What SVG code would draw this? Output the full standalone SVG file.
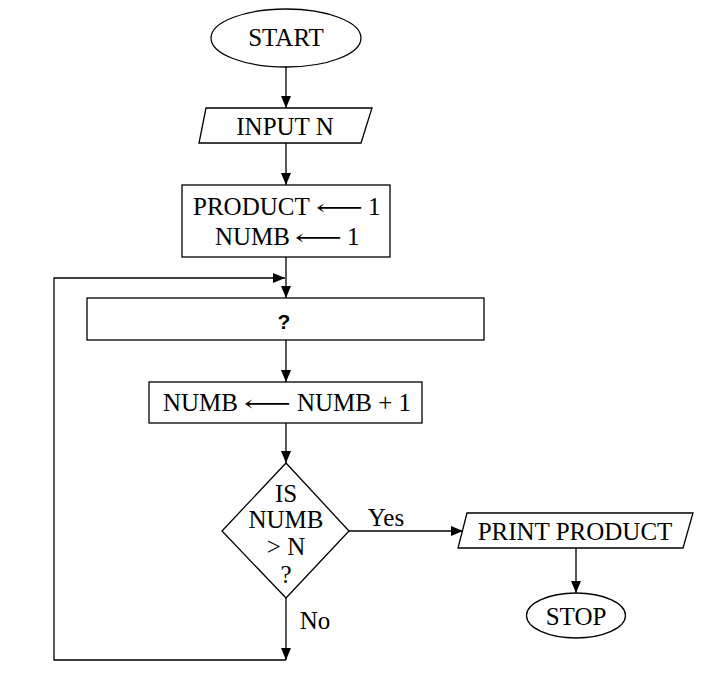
<svg xmlns="http://www.w3.org/2000/svg" width="708" height="675" viewBox="0 0 708 675">
<style>
.s{fill:#fff;stroke:#000;stroke-width:1.3}
.c{fill:none;stroke:#000;stroke-width:1.3}
.t{font-family:"Liberation Serif","DejaVu Serif",serif;font-size:25px;fill:#000;text-anchor:middle}
.l{font-family:"Liberation Serif","DejaVu Serif",serif;font-size:25px;fill:#000}
.a{font-family:"DejaVu Serif","DejaVu Sans",serif;font-size:22px;fill:#000}
.q{font-family:"Liberation Sans",sans-serif;font-size:21px;font-weight:bold;fill:#000;text-anchor:middle}
</style>
<defs>
<marker id="ah" viewBox="0 0 12 10" refX="12" refY="5" markerWidth="12" markerHeight="10" markerUnits="userSpaceOnUse" orient="auto">
<path d="M0,0 L12,5 L0,10 Z" fill="#000"/>
</marker>
</defs>
<rect width="708" height="675" fill="#fff"/>
<g id="connectors">
<line class="c" x1="286" y1="67" x2="286" y2="108" marker-end="url(#ah)"/>
<line class="c" x1="286" y1="143" x2="286" y2="185" marker-end="url(#ah)"/>
<line class="c" x1="286" y1="257" x2="286" y2="298" marker-end="url(#ah)"/>
<line class="c" x1="286" y1="340" x2="286" y2="382" marker-end="url(#ah)"/>
<line class="c" x1="286" y1="423" x2="286" y2="463" marker-end="url(#ah)"/>
<line class="c" x1="349" y1="531" x2="463" y2="531" marker-end="url(#ah)"/>
<line class="c" x1="576" y1="548" x2="576" y2="593" marker-end="url(#ah)"/>
<line class="c" x1="286" y1="598" x2="286" y2="660" marker-end="url(#ah)"/>
<polyline class="c" points="286,660 54,660 54,278 285,278" marker-end="url(#ah)"/>
<text class="t" x="386" y="526">Yes</text>
<text class="t" x="315" y="629">No</text>
</g>
<g id="start">
<ellipse class="s" cx="286" cy="38" rx="75" ry="29"/>
<text class="t" x="286" y="46">START</text>
</g>
<g id="input">
<polygon class="s" points="206,108 372,108 361,143 199,143"/>
<text class="t" x="285" y="135">INPUT N</text>
</g>
<g id="init">
<rect class="s" x="182" y="185" width="208" height="72"/>
<text class="l" x="193" y="215">PRODUCT</text>
<text class="a" x="316" y="215" textLength="47" lengthAdjust="spacingAndGlyphs">⟵</text>
<text class="l" x="368" y="215">1</text>
<text class="l" x="215" y="245">NUMB</text>
<text class="a" x="295" y="245" textLength="47" lengthAdjust="spacingAndGlyphs">⟵</text>
<text class="l" x="347" y="245">1</text>
</g>
<g id="unknown">
<rect class="s" x="87" y="298" width="397" height="42"/>
<text class="q" x="284" y="329">?</text>
</g>
<g id="increment">
<rect class="s" x="149" y="382" width="273" height="41"/>
<text class="l" x="163" y="411">NUMB</text>
<text class="a" x="244" y="411" textLength="47" lengthAdjust="spacingAndGlyphs">⟵</text>
<text class="l" x="297" y="411">NUMB + 1</text>
</g>
<g id="decision">
<polygon class="s" points="286,463 349,531 286,598 222,531"/>
<text class="t" x="286" y="502">IS</text>
<text class="t" x="286" y="528">NUMB</text>
<text class="t" x="286" y="555">&gt; N</text>
<text class="t" x="286" y="583">?</text>
</g>
<g id="print">
<polygon class="s" points="467,513 693,513 683,548 458,548"/>
<text class="t" x="575" y="540">PRINT PRODUCT</text>
</g>
<g id="stop">
<ellipse class="s" cx="576" cy="615.5" rx="49.5" ry="22.5"/>
<text class="t" x="576" y="625">STOP</text>
</g>
</svg>
